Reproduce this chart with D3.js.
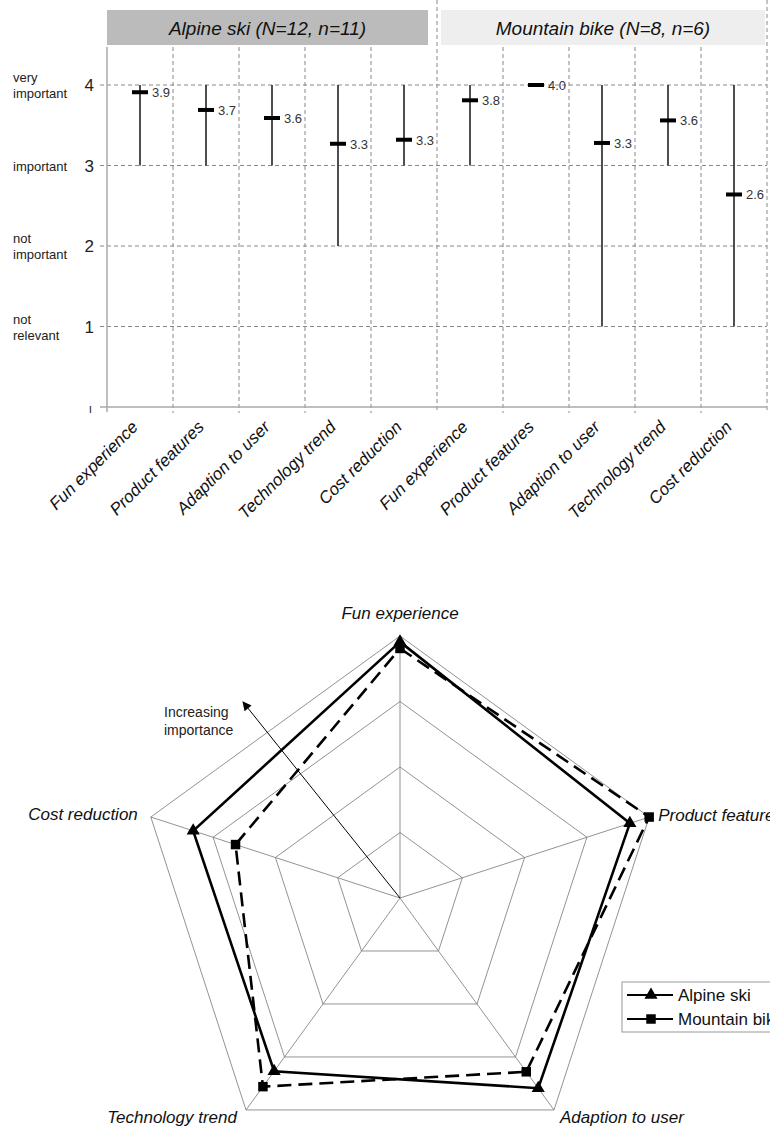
<!DOCTYPE html>
<html><head><meta charset="utf-8">
<script src="https://cdn.jsdelivr.net/npm/d3@7/dist/d3.min.js"></script>
<style>
html,body{margin:0;padding:0;background:#fff;}
svg{display:block;font-family:"Liberation Sans",Arial,sans-serif;}
</style></head>
<body>
<svg id="c" width="770" height="1129"></svg>
<script>
// ---------- data ----------
const categories = ["Fun experience","Product features","Adaption to user","Technology trend","Cost reduction"];
const groups = ["Alpine ski (N=12, n=11)","Mountain bike (N=8, n=6)"];
const alpineMean = [3.91, 3.69, 3.59, 3.27, 3.32];
const alpineMin  = [3, 3, 3, 2, 3];
const alpineMax  = [4, 4, 4, 4, 4];
const bikeMean   = [3.81, 4.00, 3.28, 3.56, 2.64];
const bikeMin    = [3, 4, 1, 3, 1];
const bikeMax    = [4, 4, 4, 4, 4];
const yTicks = [0, 1, 2, 3, 4];
const yTickText = ["ı", "1", "2", "3", "4"];
const yTickNames = [[], ["not","relevant"], ["not","important"], ["important"], ["very","important"]];
const legendNames = ["Alpine ski","Mountain bike"];

const svg = d3.select("#c");

// ---------- top chart ----------
const rows = [];
[ [alpineMean, alpineMin, alpineMax], [bikeMean, bikeMin, bikeMax] ].forEach((g, gi) => {
  categories.forEach((c, i) => rows.push({key: gi*5+i, cat: c, group: gi, mean: g[0][i], min: g[1][i], max: g[2][i]}));
});

const x = d3.scaleBand().domain(rows.map(d => d.key)).range([107, 767]).paddingInner(0).paddingOuter(0);
const y = d3.scaleLinear().domain([0, 4]).range([407, 85]);

const topG = svg.append("g");

// header boxes
groups.forEach((g, gi) => {
  const x0 = x(gi*5), x1 = x(gi*5+4) + x.bandwidth();
  const bx0 = gi ? x0 + 4 : x0, bx1 = gi ? x1 - 2 : x1 - 9;
  topG.append("rect").attr("x", bx0).attr("y", 10)
    .attr("width", bx1 - bx0).attr("height", 35)
    .attr("fill", gi ? "#eeeeee" : "#bbbbbb");
  topG.append("text").attr("x", (bx0 + bx1)/2).attr("y", 35)
    .attr("text-anchor", "middle").attr("font-size", 19).attr("font-style", "italic")
    .attr("fill", "#111").text(g);
});

// horizontal dashed grid
topG.selectAll(".hg").data(yTicks.filter(t => t > 0)).join("line")
  .attr("x1", 100).attr("x2", 767).attr("y1", d => y(d)).attr("y2", d => y(d))
  .attr("stroke", "#888").attr("stroke-width", 1).attr("stroke-dasharray", "4,3");

// vertical dashed grid at band boundaries
const bounds = rows.map(d => x(d.key) + x.bandwidth());
topG.selectAll(".vg").data(bounds).join("line")
  .attr("x1", d => d).attr("x2", d => d)
  .attr("y1", (d, i) => (i === 4 || i === 9) ? 0 : 47).attr("y2", 413)
  .attr("stroke", "#888").attr("stroke-width", 1).attr("stroke-dasharray", "4,3");

// axes (solid gray)
topG.append("line").attr("x1", 107).attr("x2", 107).attr("y1", 47).attr("y2", 412)
  .attr("stroke", "#aaa").attr("stroke-width", 1.5);
topG.append("line").attr("x1", 100).attr("x2", 767).attr("y1", y(0)).attr("y2", y(0))
  .attr("stroke", "#aaa").attr("stroke-width", 1.5);

// y tick numbers
topG.selectAll(".yt").data(yTicks).join("text")
  .attr("x", (d) => d === 0 ? 92 : 94).attr("y", d => y(d) + 6)
  .attr("text-anchor", "end").attr("font-size", d => d === 0 ? 12 : 17).attr("fill", "#222")
  .text((d, i) => yTickText[i]);

// y tick names
yTicks.forEach((t, i) => {
  const lines = yTickNames[i];
  lines.forEach((ln, j) => {
    const yy = lines.length === 1 ? y(t) + 5 : y(t) - 3 + j*16;
    topG.append("text").attr("x", 13).attr("y", yy).attr("font-size", 13).attr("fill", "#222").text(ln);
  });
});

// whiskers
const cx = d => x(d.key) + x.bandwidth()/2;
topG.selectAll(".wh").data(rows.filter(d => d.max > d.min)).join("line")
  .attr("x1", cx).attr("x2", cx).attr("y1", d => y(d.max)).attr("y2", d => y(d.min))
  .attr("stroke", "#222").attr("stroke-width", 1.6);
// means
topG.selectAll(".mn").data(rows).join("line")
  .attr("x1", d => cx(d) - 8).attr("x2", d => cx(d) + 8)
  .attr("y1", d => y(d.mean)).attr("y2", d => y(d.mean))
  .attr("stroke", "#000").attr("stroke-width", 4);
topG.selectAll(".ml").data(rows).join("text")
  .attr("x", d => cx(d) + 12).attr("y", d => y(d.mean) + 5)
  .attr("font-size", 13).attr("fill", "#333").text(d => d.mean.toFixed(1));

// x labels
topG.selectAll(".xl").data(rows).join("text")
  .attr("transform", d => `translate(${cx(d) - 1},${428}) rotate(-45)`)
  .attr("text-anchor", "end").attr("font-size", 17).attr("font-style", "italic").attr("fill", "#111")
  .text(d => d.cat);

// ---------- radar ----------
const C = [400, 898];
const r = d3.scaleLinear().domain([0, 4]).range([0, 262]);
const ang = d3.scaleLinear().domain([0, categories.length]).range([0, 2*Math.PI]);
const pt = (i, v) => [C[0] + r(v)*Math.sin(ang(i)), C[1] - r(v)*Math.cos(ang(i))];
const rad = svg.append("g");

// rings
[1, 2, 3, 4].forEach(v => {
  rad.append("path")
    .attr("d", d3.line()(categories.map((c, i) => pt(i, v))) + "Z")
    .attr("fill", "none").attr("stroke", "#777").attr("stroke-width", 0.8);
});
// spokes
categories.forEach((c, i) => {
  const p = pt(i, 4);
  rad.append("line").attr("x1", C[0]).attr("y1", C[1]).attr("x2", p[0]).attr("y2", p[1])
    .attr("stroke", "#777").attr("stroke-width", 0.8);
});

// arrow
const defs = svg.append("defs");
defs.append("marker").attr("id", "ah").attr("viewBox", "0 0 10 10").attr("refX", 9).attr("refY", 5)
  .attr("markerWidth", 11).attr("markerHeight", 9).attr("markerUnits", "userSpaceOnUse").attr("orient", "auto")
  .append("path").attr("d", "M0,0 L10,5 L0,10 Z").attr("fill", "#000");
rad.append("line").attr("x1", C[0]).attr("y1", C[1]).attr("x2", 243).attr("y2", 702)
  .attr("stroke", "#000").attr("stroke-width", 1).attr("marker-end", "url(#ah)");
rad.append("text").attr("x", 164).attr("y", 717).attr("font-size", 14).attr("fill", "#222").text("Increasing");
rad.append("text").attr("x", 164).attr("y", 735).attr("font-size", 14).attr("fill", "#222").text("importance");

// series
const lineR = d3.lineRadial().angle((d, i) => ang(i)).radius(d => r(d)).curve(d3.curveLinearClosed);
const series = [
  {name: legendNames[0], vals: alpineMean, dash: null, sym: d3.symbolTriangle, size: 75},
  {name: legendNames[1], vals: bikeMean, dash: "14,7", sym: d3.symbolSquare, size: 90}
];
series.forEach(s => {
  rad.append("path").attr("transform", `translate(${C[0]},${C[1]})`)
    .attr("d", lineR(s.vals)).attr("fill", "none").attr("stroke", "#000").attr("stroke-width", 2.6)
    .attr("stroke-dasharray", s.dash);
  s.vals.forEach((v, i) => {
    const p = pt(i, v);
    rad.append("path").attr("transform", `translate(${p[0]},${p[1]})`)
      .attr("d", d3.symbol().type(s.sym).size(s.size)()).attr("fill", "#000");
  });
});

// axis labels
const labPos = [
  {dx: 0, dy: -17, anchor: "middle"},
  {dx: 9, dy: 4, anchor: "start"},
  {dx: 6, dy: 13, anchor: "start"},
  {dx: -9, dy: 13, anchor: "end"},
  {dx: -13, dy: 3, anchor: "end"}
];
categories.forEach((c, i) => {
  const p = pt(i, 4);
  rad.append("text").attr("x", p[0] + labPos[i].dx).attr("y", p[1] + labPos[i].dy)
    .attr("text-anchor", labPos[i].anchor).attr("font-size", 17).attr("font-style", "italic")
    .attr("fill", "#111").text(c);
});

// legend
const lg = svg.append("g");
lg.append("rect").attr("x", 622).attr("y", 982).attr("width", 160).attr("height", 50)
  .attr("fill", "#fff").attr("stroke", "#999").attr("stroke-width", 1);
series.forEach((s, i) => {
  const yy = 995 + i*24;
  lg.append("line").attr("x1", 627).attr("x2", 673).attr("y1", yy).attr("y2", yy)
    .attr("stroke", "#000").attr("stroke-width", 2);
  lg.append("path").attr("transform", `translate(651,${yy})`)
    .attr("d", d3.symbol().type(s.sym).size(s.size)()).attr("fill", "#000");
  lg.append("text").attr("x", 678).attr("y", yy + 6).attr("font-size", 17).attr("fill", "#111").text(s.name);
});
</script>
</body></html>
